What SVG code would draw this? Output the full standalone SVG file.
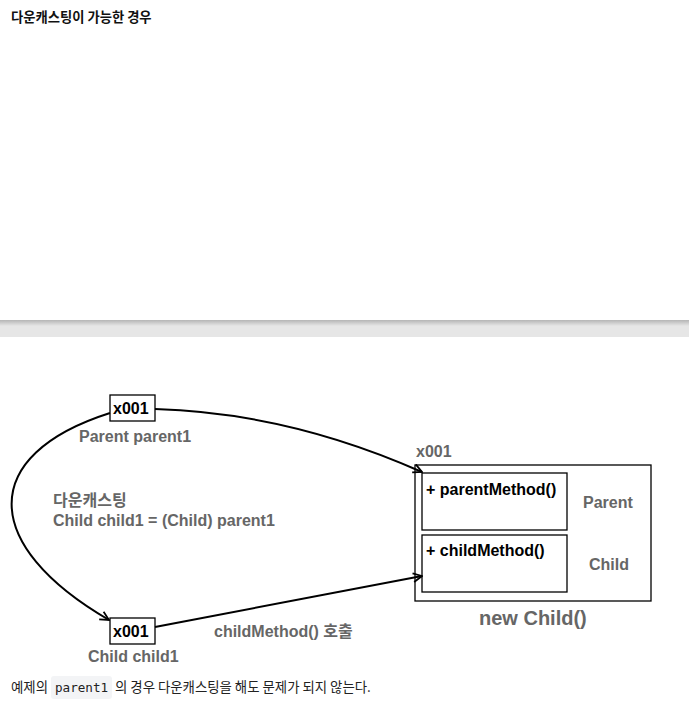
<svg xmlns="http://www.w3.org/2000/svg" width="689" height="709" viewBox="0 0 689 709">
<defs>
<linearGradient id="band" x1="0" y1="0" x2="0" y2="1">
<stop offset="0" stop-color="#b5b5b5"/>
<stop offset="0.35" stop-color="#e6e6e6"/>
<stop offset="1" stop-color="#e6e6e6"/>
</linearGradient>
<marker id="arr" viewBox="0 0 10 10" refX="9" refY="5" markerWidth="11" markerHeight="11" markerUnits="userSpaceOnUse" orient="auto">
<path d="M1,1 L9,5 L1,9" fill="none" stroke="#000" stroke-width="1.6"/>
</marker>
</defs>
<style>
.t{font-family:"Liberation Sans","Noto Sans CJK KR",sans-serif;font-weight:bold;font-size:16px}
.g{fill:#666}
.k{fill:#000}
.box{fill:#fff;stroke:#000;stroke-width:1.3}
.ln{fill:none;stroke:#000;stroke-width:2}
.p{font-family:"Noto Sans CJK KR","Noto Sans",sans-serif;font-size:13.4px;fill:#222}
</style>
<rect width="689" height="709" fill="#fff"/>
<text x="11" y="22" style="font-family:'Noto Sans CJK KR',sans-serif;font-weight:bold;font-size:13.3px" fill="#111">다운캐스팅이 가능한 경우</text>
<rect x="0" y="320" width="689" height="17" fill="url(#band)"/>
<g id="ref-parent1">
<rect class="box" x="110" y="395" width="45" height="26"/>
<text class="t k" x="113" y="414">x001</text>
<text class="t g" x="79" y="442">Parent parent1</text>
</g>
<g id="downcast-label">
<text class="t g" x="53" y="506">다운캐스팅</text>
<text class="t g" x="53" y="526">Child child1 = (Child) parent1</text>
</g>
<g id="ref-child1">
<rect class="box" x="110" y="618" width="45" height="26"/>
<text class="t k" x="113" y="637">x001</text>
<text class="t g" x="88" y="662">Child child1</text>
</g>
<g id="call-label">
<text class="t g" x="214" y="637">childMethod() 호출</text>
</g>
<g id="instance">
<text class="t g" x="416" y="457">x001</text>
<rect class="box" x="415" y="465" width="236" height="136"/>
<rect class="box" x="422" y="473" width="145" height="57"/>
<text class="t k" x="426" y="495">+ parentMethod()</text>
<text class="t g" x="583" y="508">Parent</text>
<rect class="box" x="422" y="535" width="145" height="57"/>
<text class="t k" x="426" y="556">+ childMethod()</text>
<text class="t g" x="589" y="570">Child</text>
<text class="t g" x="479" y="625" style="font-size:20px">new Child()</text>
</g>
<g id="connectors">
<path class="ln" d="M155,409 C260,412 350,440 422,472" marker-end="url(#arr)"/>
<path class="ln" d="M110,413 C-22,455 -20,545 109,620" marker-end="url(#arr)"/>
<path class="ln" d="M155,627 L422,576" marker-end="url(#arr)"/>
</g>
<rect x="51" y="676" width="61" height="23" rx="3" fill="#f3f4f6"/>
<text class="p" x="11" y="692">예제의 <tspan x="55" font-family="'DejaVu Sans Mono',monospace" font-size="12.6">parent1</tspan><tspan x="115">의 경우 다운캐스팅을 해도 문제가 되지 않는다.</tspan></text>
</svg>
